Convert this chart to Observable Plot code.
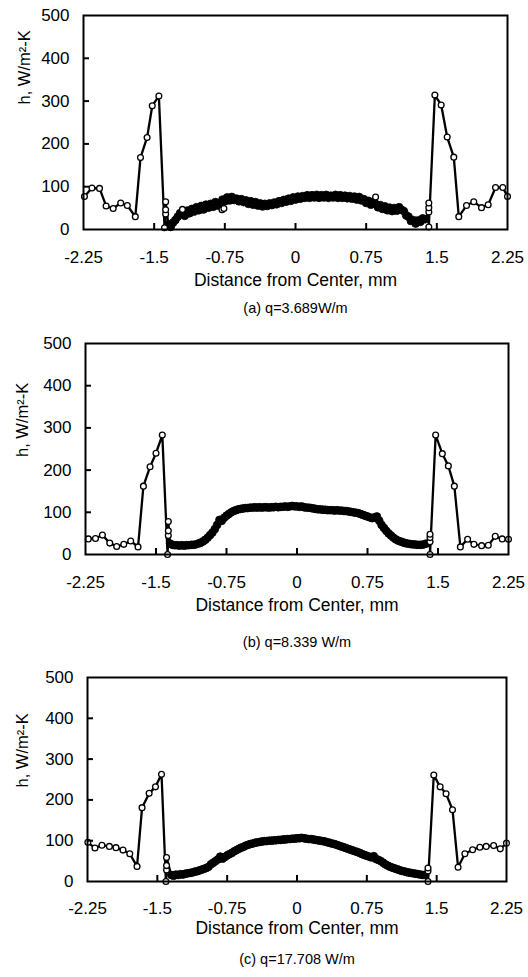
<!DOCTYPE html>
<html><head><meta charset="utf-8">
<script src="https://cdn.jsdelivr.net/npm/d3@7"></script>
<script src="https://cdn.jsdelivr.net/npm/@observablehq/plot@0.6"></script>
<style>
html,body{margin:0;padding:0;background:#fff;}
#chart svg{display:block;}
</style></head><body><div id="chart"></div>
<script>
// ---- axes / labels ----
const xDomain = [-2.25, 2.25];
const yDomain = [0, 500];
const xTickLabels = [-2.25, -1.5, -0.75, 0, 0.75, 1.5, 2.25];
const yTickLabels = [0, 100, 200, 300, 400, 500];
const xInnerTicks = [-1.5, -0.75, 0, 0.75, 1.5];
const yInnerTicks = [100, 200, 300, 400];
const xTitle = "Distance from Center, mm";
const yTitle = "h, W/m²-K";
const captions = ["(a) q=3.689W/m", "(b) q=8.339 W/m", "(c) q=17.708 W/m"];

// ---- dense measurement positions (mm), shared by the three runs ----
const denseX = [
-1.35,-1.325,-1.3,-1.275,-1.25,-1.225,-1.2,-1.175,-1.15,-1.125,
-1.1,-1.075,-1.05,-1.025,-1,-0.975,-0.95,-0.925,-0.9,-0.875,
-0.85,-0.825,-0.8,-0.775,-0.75,-0.725,-0.7,-0.675,-0.65,-0.625,
-0.6,-0.575,-0.55,-0.525,-0.5,-0.475,-0.45,-0.425,-0.4,-0.375,
-0.35,-0.325,-0.3,-0.275,-0.25,-0.225,-0.2,-0.175,-0.15,-0.125,
-0.1,-0.075,-0.05,-0.025,0,0.025,0.05,0.075,0.1,0.125,
0.15,0.175,0.2,0.225,0.25,0.275,0.3,0.325,0.35,0.375,
0.4,0.425,0.45,0.475,0.5,0.525,0.55,0.575,0.6,0.625,
0.65,0.675,0.7,0.725,0.75,0.775,0.8,0.825,0.85,0.875,
0.9,0.925,0.95,0.975,1,1.025,1.05,1.075,1.1,1.125,
1.15,1.175,1.2,1.225,1.25,1.275,1.3,1.325,1.35,1.375];

// ---- (a) q=3.689 W/m ----
const leftXA  = [-2.24,-2.16,-2.08,-2.01,-1.935,-1.855,-1.785,-1.70,-1.645,-1.575,-1.52,-1.45,-1.39,-1.378,-1.378,-1.378];
const leftHA  = [77,97,96,55,49,62,56,30,168,215,289,312,4,36,46,65];
const denseHA = [
12,6,16,22,30,38,40,32,44,38,
48,42,52,45,55,47,58,51,60,53,
64,56,62,70,66,75,68,76,69,72,
66,71,64,68,60,66,58,64,56,61,
54,60,55,61,57,63,59,66,62,69,
65,72,67,75,70,77,72,78,74,80,
74,80,75,81,74,80,75,81,74,79,
75,81,74,80,74,79,73,78,72,77,
70,76,68,71,62,67,58,64,60,52,
57,48,54,45,51,43,50,44,52,46,
43,33,30,20,22,14,21,18,26,24];
const rightXA = [1.415,1.415,1.415,1.415,1.479,1.546,1.61,1.68,1.733,1.815,1.892,1.974,2.045,2.123,2.2,2.25];
const rightHA = [41,51,62,6,314,291,216,169,30,56,65,51,58,98,98,77];
const strayXA = [-1.2,-0.78,-0.76,0.85];
const strayHA = [47,46,49,76];

// ---- (b) q=8.339 W/m ----
const leftXB  = [-2.22,-2.144,-2.07,-1.992,-1.918,-1.843,-1.769,-1.691,-1.634,-1.563,-1.5,-1.433,-1.377,-1.369,-1.369,-1.369];
const leftHB  = [37,38,46,27,19,24,32,18,162,208,240,283,0,45,56,78];
const denseHB = [
26,23,22,22,21,22,21,22,22,23,
23,24,26,28,31,35,40,46,52,60,
70,82,80,87,92,96,100,103,105,107,
108,109,110,110,111,111,112,111,112,111,
112,112,111,112,112,113,112,113,113,114,
113,114,115,114,114,113,114,112,111,111,
110,109,108,107,107,106,106,105,105,105,
104,105,104,104,103,103,102,101,100,99,
98,96,94,92,90,88,86,88,90,80,
70,63,56,50,45,40,36,33,31,29,
27,26,25,24,24,23,23,23,24,26];
const rightXB = [1.415,1.415,1.415,1.415,1.475,1.546,1.61,1.674,1.738,1.815,1.882,1.964,2.035,2.109,2.183,2.25];
const rightHB = [30,40,48,0,283,239,210,162,18,36,24,21,22,43,37,36];
const strayXB = [];
const strayHB = [];

// ---- (c) q=17.708 W/m ----
const leftXC  = [-2.246,-2.17,-2.095,-2.015,-1.944,-1.869,-1.796,-1.718,-1.664,-1.588,-1.52,-1.455,-1.408,-1.401,-1.401,-1.401];
const leftHC  = [96,82,89,86,83,77,68,37,181,216,232,263,0,28,39,59];
const denseHC = [
16,14,17,16,18,17,19,20,21,22,
24,25,27,29,31,33,36,42,46,50,
54,61,56,60,64,67,70,74,77,80,
83,85,88,90,92,93,95,96,97,98,
99,99,100,100,101,101,102,102,103,103,
104,104,105,105,106,106,107,106,105,104,
104,103,102,101,100,99,98,96,95,93,
92,90,88,86,84,82,80,78,76,74,
72,70,67,65,63,61,59,62,55,53,
50,46,42,39,36,34,32,30,28,26,
25,23,22,21,20,19,18,17,16,16];
const rightXC = [1.407,1.407,1.407,1.469,1.537,1.601,1.67,1.73,1.803,1.886,1.964,2.032,2.112,2.183,2.25];
const rightHC = [26,33,0,261,232,215,176,35,68,78,84,86,88,80,94];
const strayXC = [];
const strayHC = [];

const toRows = (xs, hs) => xs.map((x, i) => ({x, h: hs[i]}));

const layouts = [
  {height: 330, top: 15, bottom: 101, left: 83, right: 21, tickPad: 21, titleDy: 56.5, capDy: 83.5, yDx: -59, yDy: -18},
  {height: 325, top: 13, bottom: 101, left: 85, right: 20, tickPad: 21, titleDy: 56, capDy: 92, yDx: -63, yDy: 8},
  {height: 322, top: 22, bottom: 96, left: 87, right: 22, tickPad: 20.5, titleDy: 52, capDy: 82, yDx: -65, yDy: 8}
];

function panel(lx, lh, dh, rx, rh, sx, sh, caption, L) {
  const left = toRows(lx, lh), dense = toRows(denseX, dh), right = toRows(rx, rh), stray = toRows(sx, sh);
  const all = [...left, ...dense, ...right];
  const plotW = 528 - L.left - L.right;
  const plotH = L.height - L.top - L.bottom;
  return Plot.plot({
    width: 528, height: L.height,
    marginLeft: L.left, marginRight: L.right, marginTop: L.top, marginBottom: L.bottom,
    style: {fontFamily: "'Liberation Sans', Arial, sans-serif", background: "white", color: "black", overflow: "visible"},
    x: {domain: xDomain},
    y: {domain: yDomain},
    marks: [
      Plot.line(all, {x: "x", y: "h", stroke: "black", strokeWidth: 2.3}),
      Plot.dot(dense, {x: "x", y: "h", r: 3.9, fill: "black", stroke: "black", strokeWidth: 0.8}),
      Plot.dot(stray, {x: "x", y: "h", r: 2.9, fill: "white", stroke: "black", strokeWidth: 1.3}),
      Plot.dot([...left, ...right], {x: "x", y: "h", r: 2.9, fill: "white", stroke: "black", strokeWidth: 1.3}),
      Plot.frame({stroke: "black", strokeWidth: 2}),
      Plot.ruleX(xInnerTicks, {x: d => d, insetTop: plotH - 6, stroke: "black", strokeWidth: 2}),
      Plot.ruleY(yInnerTicks, {y: d => d, insetRight: plotW - 6, stroke: "black", strokeWidth: 2}),
      Plot.axisX({ticks: xTickLabels, tickSize: 0, tickPadding: L.tickPad, tickFormat: d => String(d), fontSize: 17, label: null}),
      Plot.axisY({ticks: yTickLabels, tickSize: 0, tickPadding: 14, tickFormat: d => String(d), fontSize: 17, label: null}),
      Plot.text([xTitle], {frameAnchor: "bottom", dy: L.titleDy, fontSize: 17.5, fill: "black"}),
      Plot.text([caption], {frameAnchor: "bottom", dy: L.capDy, fontSize: 14.5, fill: "black"}),
      Plot.text([yTitle], {frameAnchor: "left", dx: L.yDx, dy: L.yDy, rotate: -90, fontSize: 16.5, fill: "black"})
    ]
  });
}

const chart = document.getElementById("chart");
chart.append(panel(leftXA, leftHA, denseHA, rightXA, rightHA, strayXA, strayHA, captions[0], layouts[0]));
chart.append(panel(leftXB, leftHB, denseHB, rightXB, rightHB, strayXB, strayHB, captions[1], layouts[1]));
chart.append(panel(leftXC, leftHC, denseHC, rightXC, rightHC, strayXC, strayHC, captions[2], layouts[2]));
</script>
</body></html>
